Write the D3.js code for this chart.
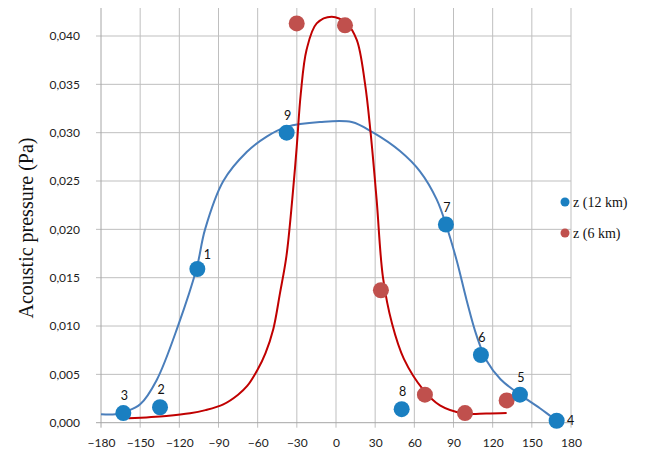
<!DOCTYPE html>
<html><head><meta charset="utf-8">
<script src="https://cdnjs.cloudflare.com/ajax/libs/d3/7.8.5/d3.min.js"></script>
<style>body{margin:0;background:#fff}svg{display:block}</style>
</head><body>
<script>
const xTicks = [-180,-150,-120,-90,-60,-30,0,30,60,90,120,150,180];
const yTicks = [0,0.005,0.010,0.015,0.020,0.025,0.030,0.035,0.040];
// measured points z (12 km)
const blueX = [-106.2,-134.8,-162.9,169,140.9,111,84.2,50.3,-37.8];
const blueY = [0.0159,0.0016,0.0010,0.0002,0.0029,0.0070,0.0205,0.0014,0.0300];
const blueLabels = ["1","2","3","4","5","6","7","8","9"];
// measured points z (6 km)
const redX = [-30.1,6.9,34.4,68.1,98.8,130.7];
const redY = [0.0413,0.0411,0.0137,0.0029,0.0010,0.0023];
// model curve z (12 km)
const blueCurveX = [-180,-169,-160,-150,-137.4,-120.8,-106.7,-100.3,-86.3,-68.4,-53.1,-37.8,-12.3,12,28.6,49,64.3,77.1,84.7,92.4,100,107.7,115.4,126,140.9,156.2,168.5,174];
const blueCurveY = [0.00087,0.00087,0.0012,0.0019,0.0044,0.0101,0.0160,0.0200,0.0250,0.0280,0.0296,0.0306,0.0311,0.0311,0.0300,0.0281,0.0260,0.0231,0.0203,0.0168,0.0127,0.0090,0.0064,0.0045,0.0029,0.0015,0.0003,0.0];
// model curve z (6 km)
const redCurveX = [-159,-130,-111.8,-100,-86.3,-75,-68,-60,-54,-48,-42.9,-38,-33.5,-30.1,-27,-22.5,-14.8,-3.3,8.2,15.9,22.2,26.5,31.1,36,43,52,66.9,79.6,97.5,115,130.7];
const redCurveY = [0.00045,0.0007,0.00097,0.0013,0.0019,0.0029,0.0038,0.0055,0.0072,0.0097,0.0134,0.0172,0.0231,0.0285,0.0340,0.0386,0.0413,0.0420,0.0413,0.0396,0.0351,0.0300,0.0231,0.0150,0.0102,0.0066,0.0034,0.0018,0.00097,0.00095,0.0010];
const legendLabels = ["z (12 km)","z (6 km)"];
const colors = {bluePt:"#1a7fc1", blueLine:"#4a7ebb", redPt:"#c0504d", redLine:"#c00000"};

const W=654,H=455;
const svg=d3.select("body").append("svg").attr("width",W).attr("height",H);
const x=d3.scaleLinear().domain([-180,180]).range([101,571]);
const y=d3.scaleLinear().domain([0,0.040]).range([422.7,36]);
const plotTop=8;

// gridlines
const g=svg.append("g");
g.selectAll(".vg").data(xTicks.slice(1)).join("line")
  .attr("x1",d=>x(d)).attr("x2",d=>x(d)).attr("y1",plotTop).attr("y2",y(0)+5)
  .attr("stroke","#bfbfbf").attr("stroke-width",1);
g.selectAll(".hg").data(yTicks.slice(1)).join("line")
  .attr("x1",x(-180)-5).attr("x2",x(180)).attr("y1",d=>y(d)).attr("y2",d=>y(d))
  .attr("stroke","#bfbfbf").attr("stroke-width",1);
// axes
svg.append("line").attr("x1",x(-180)).attr("x2",x(-180)).attr("y1",plotTop).attr("y2",y(0)+5).attr("stroke","#a6a6a6");
svg.append("line").attr("x1",x(-180)-5).attr("x2",x(180)).attr("y1",y(0)).attr("y2",y(0)).attr("stroke","#a6a6a6");

const xAxis=d3.axisBottom(x).tickValues(xTicks).tickSize(0).tickPadding(16).tickFormat(d3.format("d"));
const xa=svg.append("g").attr("transform",`translate(0,${y(0)})`).call(xAxis);
xa.select(".domain").remove();
xa.selectAll("text").attr("font-family","Lato, 'Open Sans', sans-serif").attr("font-size",12).attr("fill","#222");

const yAxis=d3.axisLeft(y).tickValues(yTicks).tickSize(0).tickPadding(21).tickFormat(d=>d3.format(".3f")(d).replace(".",","));
const ya=svg.append("g").attr("transform",`translate(${x(-180)},0)`).call(yAxis);
ya.select(".domain").remove();
ya.selectAll("text").attr("font-family","Lato, 'Open Sans', sans-serif").attr("font-size",12).attr("fill","#222");

svg.append("text").attr("transform","translate(33,228) rotate(-90)").attr("text-anchor","middle")
  .attr("font-family","'Liberation Serif', serif").attr("font-size",20).attr("fill","#111").text("Acoustic pressure (Pa)");

// curves
const line=d3.line().x(d=>x(d[0])).y(d=>y(d[1])).curve(d3.curveCatmullRom.alpha(0.5));
svg.append("path").datum(blueCurveX.map((v,i)=>[v,blueCurveY[i]])).attr("d",line)
  .attr("fill","none").attr("stroke",colors.blueLine).attr("stroke-width",2);
svg.append("path").datum(redCurveX.map((v,i)=>[v,redCurveY[i]])).attr("d",line)
  .attr("fill","none").attr("stroke",colors.redLine).attr("stroke-width",2);

// points
svg.selectAll(".rp").data(redX.map((v,i)=>[v,redY[i]])).join("circle")
  .attr("cx",d=>x(d[0])).attr("cy",d=>y(d[1])).attr("r",8).attr("fill",colors.redPt);
const bp=blueX.map((v,i)=>[v,blueY[i],blueLabels[i]]);
svg.selectAll(".bp").data(bp).join("circle")
  .attr("cx",d=>x(d[0])).attr("cy",d=>y(d[1])).attr("r",8).attr("fill",colors.bluePt);
svg.selectAll(".bl").data(bp).join("text")
  .attr("x",d=>x(d[0])+(d[2]==="1"?10:d[2]==="4"?14:1))
  .attr("y",d=>y(d[1])+(d[2]==="4"?4:d[2]==="1"?-10:-13))
  .attr("text-anchor","middle").attr("font-family","Lato, 'Open Sans', sans-serif").attr("font-size",12.5).attr("fill","#111")
  .text(d=>d[2]);

// legend
const leg=svg.append("g");
[[colors.bluePt,202],[colors.redPt,233]].forEach((c,i)=>{
  leg.append("circle").attr("cx",565).attr("cy",c[1]).attr("r",4.5).attr("fill",c[0]);
  leg.append("text").attr("x",573).attr("y",c[1]+5).attr("font-family","'Liberation Serif', serif").attr("font-size",14).attr("fill","#111").text(legendLabels[i]);
});
</script>
</body></html>
